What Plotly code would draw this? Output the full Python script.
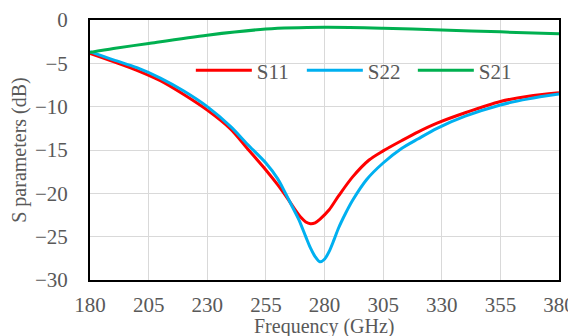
import plotly.graph_objects as go

freq_s11 = [180, 190, 200, 210, 220, 230, 240, 247, 255, 260, 264, 267, 270, 272, 274, 276, 278, 282, 286, 292, 299, 305, 313, 320, 328, 340, 355, 367, 380]
s11 = [-3.85, -4.8, -5.8, -7.0, -8.6, -10.4, -12.6, -14.8, -17.3, -19.0, -20.5, -21.7, -22.8, -23.3, -23.5, -23.4, -23.0, -21.9, -20.3, -18.1, -16.15, -15.1, -13.9, -12.9, -11.9, -10.7, -9.4, -8.8, -8.4]

freq_s22 = [180, 190, 200, 210, 220, 230, 240, 247, 255, 260, 263, 266, 269, 272, 274, 276, 278, 280, 282, 284, 286, 289, 292, 298, 305, 313, 320, 328, 340, 355, 367, 380]
s22 = [-3.65, -4.6, -5.5, -6.7, -8.2, -10.0, -12.3, -14.3, -16.5, -18.3, -19.8, -21.4, -23.0, -25.0, -26.3, -27.3, -27.9, -27.6, -26.7, -25.4, -24.0, -22.3, -20.8, -18.4, -16.5, -14.8, -13.7, -12.5, -11.1, -9.8, -9.1, -8.55]

freq_s21 = [180, 190, 205, 230, 255, 280, 305, 330, 355, 380]
s21 = [-3.75, -3.3, -2.7, -1.75, -1.05, -0.85, -0.95, -1.15, -1.37, -1.6]

x_ticks = [180, 205, 230, 255, 280, 305, 330, 355, 380]
y_ticks = [0, -5, -10, -15, -20, -25, -30]

font = dict(family="Liberation Serif", size=21, color="#595959")
title_font = dict(family="Liberation Serif", size=20, color="#595959")

fig = go.Figure()
fig.add_trace(go.Scatter(x=freq_s11, y=s11, name="S11", mode="lines",
                         line=dict(color="#FF0000", width=3, shape="spline", smoothing=0.8)))
fig.add_trace(go.Scatter(x=freq_s22, y=s22, name="S22", mode="lines",
                         line=dict(color="#00B0F0", width=3, shape="spline", smoothing=0.8)))
fig.add_trace(go.Scatter(x=freq_s21, y=s21, name="S21", mode="lines",
                         line=dict(color="#00B050", width=3, shape="spline", smoothing=0.8)))

fig.add_annotation(text="Frequency (GHz)", xref="paper", yref="paper", x=0.5, y=0,
                   xanchor="center", yanchor="top", yshift=-33, showarrow=False,
                   font=title_font)

fig.update_layout(
    width=568, height=328,
    margin=dict(l=82, r=17, t=12, b=56),
    paper_bgcolor="white", plot_bgcolor="white",
    font=font,
    legend=dict(orientation="h", x=0.215, y=0.805, xanchor="left", yanchor="middle",
                bgcolor="rgba(0,0,0,0)", font=font, itemwidth=56,
                entrywidth=40, entrywidthmode="pixels"),
    xaxis=dict(range=[180, 380], tickvals=x_ticks, showgrid=True, gridcolor="#D9D9D9", gridwidth=1.3,
               showline=True, linecolor="black", linewidth=2, mirror=True, zeroline=False,
               ticks="", ticklabelstandoff=5, automargin=False),
    yaxis=dict(range=[-30, 0], tickvals=y_ticks, showgrid=True, gridcolor="#D9D9D9", gridwidth=1.3,
               showline=True, linecolor="black", linewidth=2, mirror=True, zeroline=False,
               ticks="", ticklabelstandoff=16, automargin=False,
               title=dict(text="S parameters (dB)", font=title_font, standoff=10)),
)

fig.write_html("out.html")
